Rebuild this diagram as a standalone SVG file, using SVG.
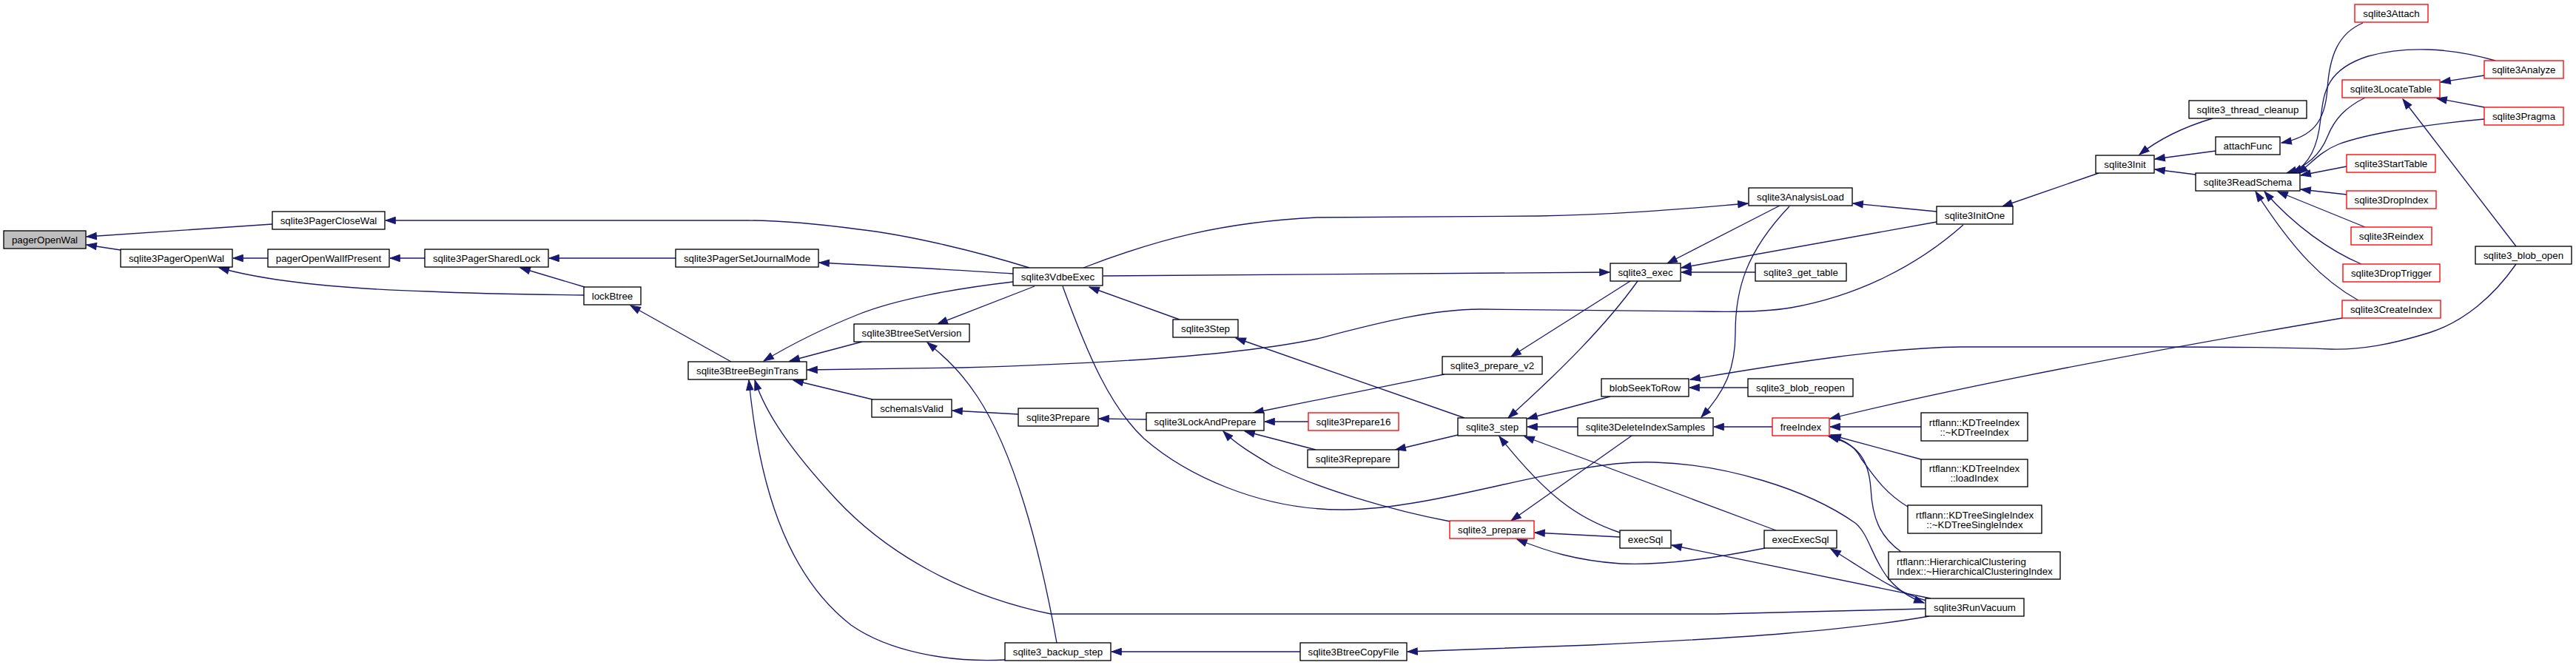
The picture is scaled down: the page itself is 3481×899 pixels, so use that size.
<svg xmlns="http://www.w3.org/2000/svg" width="3481" height="899" viewBox="0 0 3481 899">
<defs>
<marker id="a" markerWidth="14" markerHeight="10" refX="13.3" refY="4.65" orient="auto" markerUnits="userSpaceOnUse" overflow="visible"><path d="M0,0 L13.3,4.65 L0,9.3 z" fill="#191970" stroke="#191970" stroke-width="1"/></marker>
</defs>
<style>
.n rect{fill:#fff;stroke:#000;stroke-width:1.33}
.r rect{stroke:#ff0000}
.root rect{fill:#bfbfbf}
text{font-family:"Liberation Sans",Arial,Helvetica,sans-serif;font-size:13.33px;text-anchor:middle;fill:#000}
.l text{text-anchor:start}
.e path{fill:none;stroke:#191970;stroke-width:1.33;marker-end:url(#a)}
</style>
<rect width="3481" height="899" fill="#fff"/>
<g class="e" id="edges">
<path d="M368,303 L117,320"/>
<path d="M163,338 L117,331"/>
<path d="M1391,362 C1320,340 1230,318 1160,310 C1100,302 1050,298 1010,298 L521,298"/>
<path d="M362,349 L315,349"/>
<path d="M789,399 C700,398 620,396 580,394 C450,390 360,380 296,362"/>
<path d="M574,349 L527,349"/>
<path d="M913,349 L742,349"/>
<path d="M790,388 L703,362"/>
<path d="M988,489 L852,413"/>
<path d="M1369,370 C1300,365 1200,360 1107,355"/>
<path d="M1369,381 C1290,390 1210,405 1160,425 C1110,445 1070,465 1032,488"/>
<path d="M1165,462 L1067,488"/>
<path d="M2653,304 C2590,360 2510,400 2420,416 C2390,421 2340,422 2300,421 L2000,418 C1930,418 1850,440 1780,458 C1700,475 1550,490 1300,497 L1091,500"/>
<path d="M1179,540 L1072,514"/>
<path d="M2602,823 L2320,830 L1420,830 C1300,805 1200,750 1130,675 C1070,610 1035,560 1020,514"/>
<path d="M1358,892 C1280,896 1200,880 1150,845 C1060,775 1025,650 1012,514"/>
<path d="M1398,387 L1267,438"/>
<path d="M1428,869 C1405,740 1370,610 1320,535 C1300,505 1280,485 1253,463"/>
<path d="M1594,432 L1472,388"/>
<path d="M1491,373 L2175,368"/>
<path d="M1464,362 C1560,325 1650,300 1780,294 L2080,292 C2200,290 2300,280 2362,275"/>
<path d="M2405,278 L2253,356"/>
<path d="M2617,300 L2272,362"/>
<path d="M2372,368 L2272,368"/>
<path d="M2617,286 L2504,275"/>
<path d="M2418,279 C2360,340 2345,390 2345,450 C2345,500 2330,530 2299,564"/>
<path d="M2836,234 L2706,279"/>
<path d="M2990,160 C2950,172 2915,190 2891,209"/>
<path d="M2994,204 L2912,215"/>
<path d="M2967,236 L2912,229"/>
<path d="M3193,31 C3160,45 3148,75 3145,120 C3142,165 3125,185 3083,193"/>
<path d="M3372,82 C3310,64 3250,62 3200,76 C3140,95 3140,130 3136,160 C3132,200 3120,222 3098,234"/>
<path d="M3196,132 C3170,145 3155,160 3145,185 C3135,210 3115,226 3090,234"/>
<path d="M3357,161 C3280,168 3200,180 3160,195 C3135,205 3122,222 3105,235"/>
<path d="M3171,225 L3109,237"/>
<path d="M3171,263 L3109,256"/>
<path d="M3196,307 L3078,259"/>
<path d="M3191,357 C3150,340 3100,305 3060,259"/>
<path d="M3187,406 C3140,380 3100,340 3048,259"/>
<path d="M3357,102 L3298,111"/>
<path d="M3357,145 L3293,133"/>
<path d="M3400,333 L3247,134"/>
<path d="M3400,357 C3370,400 3330,435 3282,450 C3230,466 3190,473 3150,472 C3100,470 3060,469 2920,469 L2650,469 C2550,470 2420,490 2284,513"/>
<path d="M2362,524 L2283,524"/>
<path d="M2176,536 L2064,566"/>
<path d="M2132,577 L2064,577"/>
<path d="M2213,380 C2170,440 2110,500 2038,565"/>
<path d="M2189,720 C2130,700 2090,670 2026,590"/>
<path d="M2400,717 L2060,590"/>
<path d="M1979,565 L1670,457"/>
<path d="M2203,380 L2042,482"/>
<path d="M1952,506 L1694,558"/>
<path d="M1768,570 L1709,570"/>
<path d="M1778,608 L1682,583"/>
<path d="M1960,705 C1880,690 1780,660 1720,630 C1690,612 1670,600 1653,583"/>
<path d="M1549,567 L1485,566"/>
<path d="M1376,560 L1287,555"/>
<path d="M1970,588 L1886,608"/>
<path d="M1436,387 C1470,480 1500,550 1546,593 C1600,640 1700,690 1817,689 C1950,688 2120,620 2237,625 C2330,628 2440,660 2507,707 C2535,730 2530,790 2600,815"/>
<path d="M2603,812 C2560,800 2520,770 2474,742"/>
<path d="M2609,809 L2259,737"/>
<path d="M2189,726 L2074,720"/>
<path d="M2205,589 L2042,704"/>
<path d="M2385,741 C2330,752 2250,765 2190,762 C2130,758 2090,745 2050,729"/>
<path d="M2607,833 C2500,852 2350,863 2150,872 L1902,881"/>
<path d="M1757,881 L1502,881"/>
<path d="M2395,577 L2316,577"/>
<path d="M3165,430 C3000,458 2700,510 2473,566"/>
<path d="M2596,577 L2473,577"/>
<path d="M2596,621 L2474,588"/>
<path d="M2578,685 C2545,665 2530,640 2515,620 C2505,600 2490,595 2472,589"/>
<path d="M2569,746 C2540,725 2530,700 2528,660 C2525,620 2510,600 2471,590"/>
</g>
<g id="n1" class="n root"><rect x="5" y="312" width="111" height="24"/><text x="60.5" y="328.5">pagerOpenWal</text></g>
<g id="n2" class="n"><rect x="368" y="286" width="152" height="24"/><text x="444" y="302.5">sqlite3PagerCloseWal</text></g>
<g id="n3" class="n"><rect x="163" y="337" width="151" height="24"/><text x="238.5" y="353.5">sqlite3PagerOpenWal</text></g>
<g id="n4" class="n"><rect x="362" y="337" width="164" height="24"/><text x="444" y="353.5">pagerOpenWalIfPresent</text></g>
<g id="n5" class="n"><rect x="574" y="337" width="167" height="24"/><text x="657.5" y="353.5">sqlite3PagerSharedLock</text></g>
<g id="n6" class="n"><rect x="913" y="337" width="193" height="24"/><text x="1009.5" y="353.5">sqlite3PagerSetJournalMode</text></g>
<g id="n7" class="n"><rect x="789" y="388" width="77" height="24"/><text x="827.5" y="404.5">lockBtree</text></g>
<g id="n8" class="n"><rect x="930" y="489" width="160" height="24"/><text x="1010" y="505.5">sqlite3BtreeBeginTrans</text></g>
<g id="n9" class="n"><rect x="1369" y="362" width="121" height="24"/><text x="1429.5" y="378.5">sqlite3VdbeExec</text></g>
<g id="n10" class="n"><rect x="1154" y="438" width="156" height="24"/><text x="1232" y="454.5">sqlite3BtreeSetVersion</text></g>
<g id="n11" class="n"><rect x="1585" y="432" width="88" height="24"/><text x="1629" y="448.5">sqlite3Step</text></g>
<g id="n12" class="n"><rect x="1178" y="540" width="108" height="24"/><text x="1232" y="556.5">schemaIsValid</text></g>
<g id="n13" class="n"><rect x="1376" y="552" width="108" height="24"/><text x="1430" y="568.5">sqlite3Prepare</text></g>
<g id="n14" class="n"><rect x="1549" y="558" width="159" height="24"/><text x="1628.5" y="574.5">sqlite3LockAndPrepare</text></g>
<g id="n15" class="n"><rect x="1358" y="869" width="143" height="24"/><text x="1429.5" y="885.5">sqlite3_backup_step</text></g>
<g id="n16" class="n"><rect x="1757" y="869" width="144" height="24"/><text x="1829" y="885.5">sqlite3BtreeCopyFile</text></g>
<g id="n17" class="n"><rect x="2176" y="356" width="95" height="24"/><text x="2223.5" y="372.5">sqlite3_exec</text></g>
<g id="n18" class="n"><rect x="1949" y="482" width="135" height="24"/><text x="2016.5" y="498.5">sqlite3_prepare_v2</text></g>
<g id="n19" class="n"><rect x="2164" y="512" width="118" height="24"/><text x="2223" y="528.5">blobSeekToRow</text></g>
<g id="n20" class="n r"><rect x="1768" y="558" width="122" height="24"/><text x="1829" y="574.5">sqlite3Prepare16</text></g>
<g id="n21" class="n"><rect x="1970" y="565" width="93" height="24"/><text x="2016.5" y="581.5">sqlite3_step</text></g>
<g id="n22" class="n"><rect x="2132" y="565" width="183" height="24"/><text x="2223.5" y="581.5">sqlite3DeleteIndexSamples</text></g>
<g id="n23" class="n"><rect x="1767" y="608" width="123" height="24"/><text x="1828.5" y="624.5">sqlite3Reprepare</text></g>
<g id="n24" class="n r"><rect x="1959" y="704" width="114" height="24"/><text x="2016" y="720.5">sqlite3_prepare</text></g>
<g id="n25" class="n"><rect x="2189" y="717" width="69" height="24"/><text x="2223.5" y="733.5">execSql</text></g>
<g id="n26" class="n"><rect x="2363" y="254" width="140" height="24"/><text x="2433" y="270.5">sqlite3AnalysisLoad</text></g>
<g id="n27" class="n"><rect x="2617" y="279" width="103" height="24"/><text x="2668.5" y="295.5">sqlite3InitOne</text></g>
<g id="n28" class="n"><rect x="2832" y="210" width="79" height="24"/><text x="2871.5" y="226.5">sqlite3Init</text></g>
<g id="n29" class="n"><rect x="2372" y="356" width="123" height="24"/><text x="2433.5" y="372.5">sqlite3_get_table</text></g>
<g id="n30" class="n"><rect x="2362" y="512" width="142" height="24"/><text x="2433" y="528.5">sqlite3_blob_reopen</text></g>
<g id="n31" class="n r"><rect x="2395" y="565" width="77" height="24"/><text x="2433.5" y="581.5">freeIndex</text></g>
<g id="n32" class="n"><rect x="2596" y="558" width="144" height="38"/><text x="2668" y="575.5">rtflann::KDTreeIndex</text><text x="2668" y="588.5">::~KDTreeIndex</text></g>
<g id="n33" class="n"><rect x="2596" y="621" width="144" height="37"/><text x="2668" y="638">rtflann::KDTreeIndex</text><text x="2668" y="651">::loadIndex</text></g>
<g id="n34" class="n"><rect x="2578" y="683" width="181" height="38"/><text x="2668.5" y="700.5">rtflann::KDTreeSingleIndex</text><text x="2668.5" y="713.5">::~KDTreeSingleIndex</text></g>
<g id="n35" class="n l"><rect x="2552" y="746" width="232" height="37"/><text x="2563" y="763.5">rtflann::HierarchicalClustering</text><text x="2563" y="776.5">Index::~HierarchicalClusteringIndex</text></g>
<g id="n36" class="n"><rect x="2958" y="136" width="159" height="24"/><text x="3037.5" y="152.5">sqlite3_thread_cleanup</text></g>
<g id="n37" class="n"><rect x="2994" y="185" width="87" height="24"/><text x="3037.5" y="201.5">attachFunc</text></g>
<g id="n38" class="n"><rect x="2967" y="234" width="141" height="24"/><text x="3037.5" y="250.5">sqlite3ReadSchema</text></g>
<g id="n39" class="n r"><rect x="3182" y="6" width="99" height="24"/><text x="3231.5" y="22.5">sqlite3Attach</text></g>
<g id="n40" class="n r"><rect x="3357" y="82" width="107" height="24"/><text x="3410.5" y="98.5">sqlite3Analyze</text></g>
<g id="n41" class="n r"><rect x="3165" y="108" width="132" height="24"/><text x="3231" y="124.5">sqlite3LocateTable</text></g>
<g id="n42" class="n r"><rect x="3357" y="145" width="107" height="24"/><text x="3410.5" y="161.5">sqlite3Pragma</text></g>
<g id="n43" class="n r"><rect x="3171" y="209" width="120" height="24"/><text x="3231" y="225.5">sqlite3StartTable</text></g>
<g id="n44" class="n r"><rect x="3171" y="258" width="121" height="24"/><text x="3231.5" y="274.5">sqlite3DropIndex</text></g>
<g id="n45" class="n r"><rect x="3177" y="307" width="109" height="24"/><text x="3231.5" y="323.5">sqlite3Reindex</text></g>
<g id="n46" class="n"><rect x="3345" y="333" width="130" height="24"/><text x="3410" y="349.5">sqlite3_blob_open</text></g>
<g id="n47" class="n r"><rect x="3166" y="357" width="131" height="24"/><text x="3231.5" y="373.5">sqlite3DropTrigger</text></g>
<g id="n48" class="n r"><rect x="3165" y="406" width="133" height="24"/><text x="3231.5" y="422.5">sqlite3CreateIndex</text></g>
<g id="n49" class="n"><rect x="2384" y="717" width="98" height="24"/><text x="2433" y="733.5">execExecSql</text></g>
<g id="n50" class="n"><rect x="2602" y="809" width="133" height="24"/><text x="2668.5" y="825.5">sqlite3RunVacuum</text></g>
</svg>
